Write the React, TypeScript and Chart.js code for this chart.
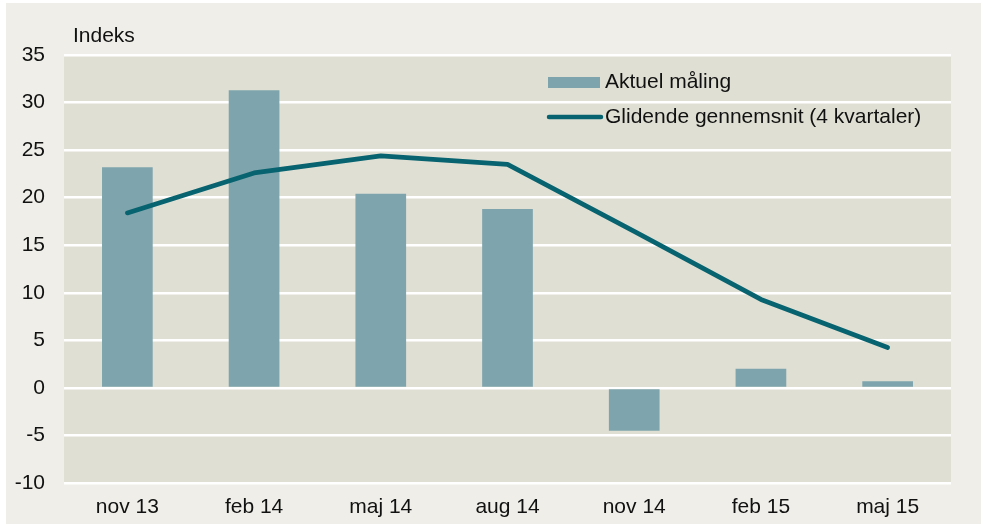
import React, { useEffect, useRef } from "react";
import { Chart, registerables } from "chart.js";

Chart.register(...registerables);

const categories = ["nov 13", "feb 14", "maj 14", "aug 14", "nov 14", "feb 15", "maj 15"];
const aktuelMaaling = [23.2, 31.3, 20.4, 18.8, -4.5, 2.0, 0.7];
const glidendeGennemsnit = [18.4, 22.6, 24.4, 23.5, 16.45, 9.3, 4.25];
const seriesNames = ["Aktuel måling", "Glidende gennemsnit (4 kvartaler)"];
const yAxisLabel = "Indeks";
const yMin = -10;
const yMax = 35;
const yStep = 5;

const FONT = "'Liberation Sans', Arial, Helvetica, sans-serif";
const PAGE_BG = "#efeee8";
const PLOT_BG = "#e0dfd4";
const BAR_COLOR = "#7ea4ad";
const LINE_COLOR = "#07636f";
const TEXT_COLOR = "#111111";

const decorPlugin = {
  id: "decor",
  beforeDraw(chart: any) {
    const { ctx, chartArea, width, height } = chart;
    ctx.save();
    ctx.fillStyle = "#ffffff";
    ctx.fillRect(0, 0, width, height);
    ctx.fillStyle = PAGE_BG;
    ctx.fillRect(6, 3, width - 6, height - 3);
    ctx.fillStyle = PLOT_BG;
    ctx.fillRect(chartArea.left, chartArea.top, chartArea.right - chartArea.left, chartArea.bottom - chartArea.top);
    ctx.restore();
  },
  afterDraw(chart: any) {
    const { ctx, chartArea } = chart;
    ctx.save();
    ctx.fillStyle = TEXT_COLOR;
    ctx.font = `21px ${FONT}`;
    ctx.textAlign = "left";
    ctx.textBaseline = "alphabetic";
    ctx.fillText(yAxisLabel, chartArea.left + 9, 42);

    // legend
    const lx = chartArea.left + 484;
    const ds = chart.data.datasets;
    ctx.fillStyle = BAR_COLOR;
    ctx.fillRect(lx, 77, 52, 11);
    ctx.fillStyle = TEXT_COLOR;
    ctx.textBaseline = "middle";
    ctx.fillText(ds[0].label, lx + 57, 82);

    ctx.strokeStyle = LINE_COLOR;
    ctx.lineWidth = 4.5;
    ctx.lineCap = "round";
    ctx.beginPath();
    ctx.moveTo(lx + 1, 117);
    ctx.lineTo(lx + 53, 117);
    ctx.stroke();
    ctx.fillText(ds[1].label, lx + 57, 117);
    ctx.restore();
  },
};

export default function App() {
  const canvasRef = useRef<HTMLCanvasElement | null>(null);

  useEffect(() => {
    document.body.style.margin = "0";
    const canvas = canvasRef.current;
    if (!canvas) return;
    const chart = new Chart(canvas, {
      data: {
        labels: categories,
        datasets: [
          {
            type: "bar",
            label: seriesNames[0],
            data: aktuelMaaling,
            backgroundColor: BAR_COLOR,
            borderWidth: 0,
            barPercentage: 0.4,
            categoryPercentage: 1,
            order: 2,
          },
          {
            type: "line",
            label: seriesNames[1],
            data: glidendeGennemsnit,
            borderColor: LINE_COLOR,
            backgroundColor: LINE_COLOR,
            borderWidth: 4.7,
            borderCapStyle: "round",
            borderJoinStyle: "round",
            pointRadius: 0,
            pointHoverRadius: 0,
            tension: 0,
            fill: false,
            order: 1,
          },
        ],
      } as any,
      options: {
        responsive: false,
        animation: false,
        layout: { padding: { top: 55, right: 30, left: 0, bottom: 0 } },
        plugins: {
          legend: { display: false },
          tooltip: { enabled: false },
          title: { display: false },
        },
        scales: {
          x: {
            grid: { display: false, drawTicks: false },
            border: { display: false },
            ticks: {
              color: TEXT_COLOR,
              font: { family: FONT, size: 21 },
              padding: 12,
              maxRotation: 0,
            },
            afterFit(scale: any) {
              scale.height = 41;
            },
          },
          y: {
            min: yMin,
            max: yMax,
            grid: {
              color: "#ffffff",
              lineWidth: 2.5,
              drawTicks: false,
            },
            border: { display: false },
            ticks: {
              stepSize: yStep,
              color: TEXT_COLOR,
              font: { family: FONT, size: 21 },
              padding: 19,
            },
            afterFit(scale: any) {
              scale.width = 64;
            },
          },
        },
      } as any,
      plugins: [decorPlugin],
    });
    return () => chart.destroy();
  }, []);

  return (
    <canvas
      ref={canvasRef}
      width={981}
      height={524}
      style={{ display: "block", width: 981, height: 524 }}
    />
  );
}
